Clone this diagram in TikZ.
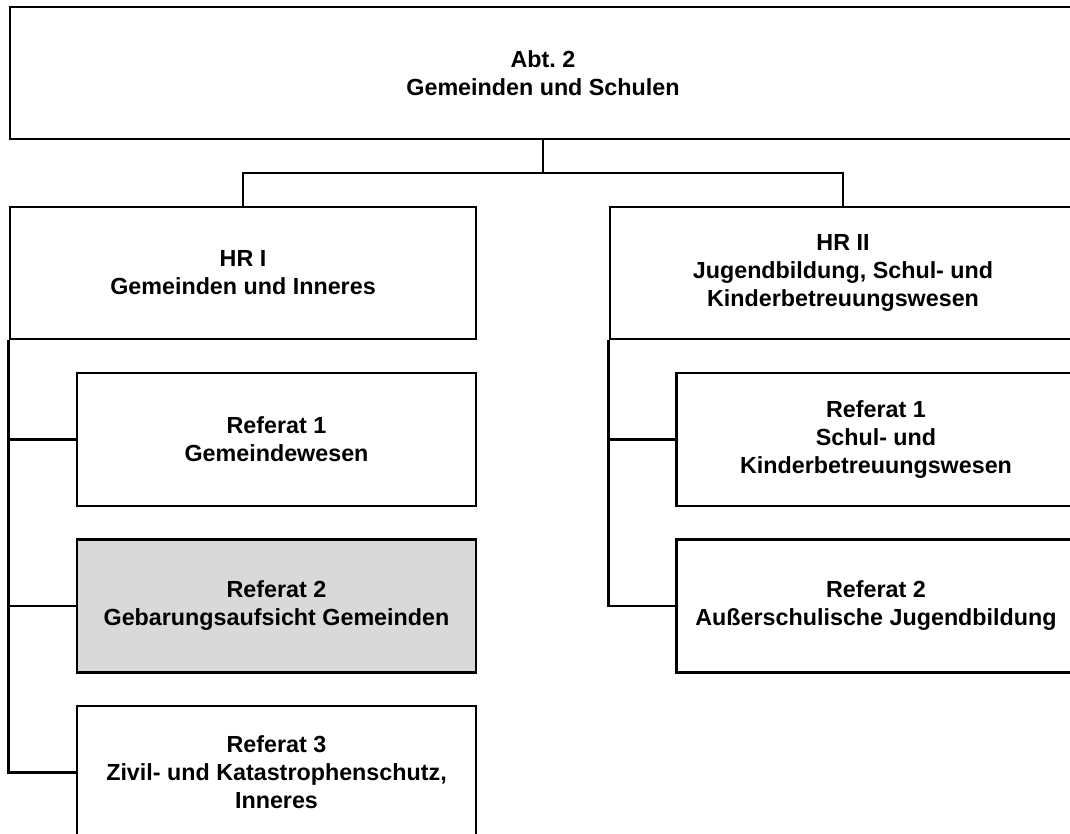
\documentclass[tikz,border=0pt]{standalone}
\usepackage{fontspec}
\setmainfont{Liberation Sans}
\frenchspacing
\definecolor{refgray}{HTML}{D9D9D9}
\begin{document}
\begin{tikzpicture}[
        x=1pt, y=-1pt,
        line width=2.6pt,
        every node/.style={draw, rectangle, line width=2.6pt, align=center, font=\fontsize{23.3}{28}\selectfont\bfseries},
        headbox/.style={minimum width=466pt, minimum height=132pt},
        refbox/.style={minimum width=399pt, minimum height=133pt},
        bus/.style={draw}
    ]
    \useasboundingbox (0,0) rectangle (1070,834);
    \node[minimum width=1066pt, minimum height=132pt] (abt) at (543,73) {Abt. 2\\Gemeinden und Schulen};
    \node[headbox] (hr1) at (243,273) {HR I\\Gemeinden und Inneres};
    \node[headbox] (hr2) at (843,273) {HR II\\Jugendbildung, Schul- und\\Kinderbetreuungswesen};
    % Referate HR I
    \node[refbox] (ref11) at (276.5,439.5) {Referat 1\\Gemeindewesen};
    \node[refbox, fill=refgray] (ref12) at (276.5,606) {Referat 2\\Gebarungsaufsicht Gemeinden};
    \node[refbox] (ref13) at (276.5,772.5) {Referat 3\\Zivil- und Katastrophenschutz,\\Inneres};
    % Referate HR II
    \node[refbox] (ref21) at (876,439.5) {Referat 1\\Schul- und\\Kinderbetreuungswesen};
    \node[refbox] (ref22) at (876,606) {Referat 2\\Außerschulische Jugendbildung};
    \coordinate (split) at (543,173);
    \draw[bus] (abt.south) -- (split);
    \draw[bus] (split) -| (hr1.north);
    \draw[bus] (split) -| (hr2.north);
    \draw[bus] (hr1.south west) |- (ref13.west);
    \draw[bus] (hr2.south west) |- (ref22.west);
    \foreach \r in {ref11,ref12}
        \draw[bus] (\r.west) -- (\r.west -| hr1.west);
    \draw[bus] (ref21.west) -- (ref21.west -| hr2.west);
\end{tikzpicture}
\end{document}
